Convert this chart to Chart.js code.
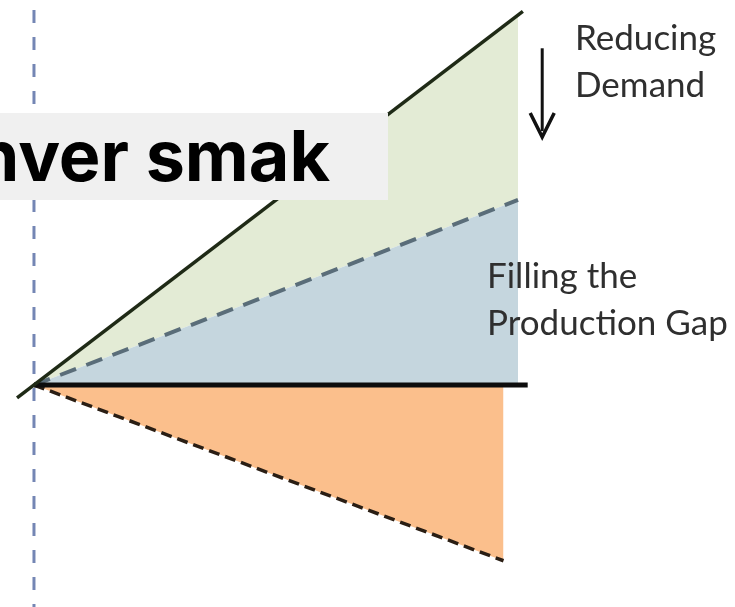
<!DOCTYPE html>
<html>
<head>
<meta charset="utf-8">
<script src="https://cdn.jsdelivr.net/npm/chart.js@4"></script>
<style>
  body { margin: 0; background: #fff; }
  #wrap { position: relative; width: 735px; height: 607px; overflow: hidden; }
  #wrap canvas { position: absolute; left: 0; top: 0; }
  .label { position: absolute; font-family: Lato, sans-serif; font-size: 35px; line-height: 47px; color: #2f2f2f; white-space: nowrap; }
  #banner {
    position: absolute; left: 0; top: 113px; width: 330px; height: 87px; padding-right: 58px;
    background: #f0f0f0; text-align: right; overflow: hidden; white-space: nowrap;
    font-family: Inter, sans-serif; font-weight: 700; font-size: 70px; line-height: 85px; color: #000;
    direction: rtl;
  }
</style>
</head>
<body>
<div id="wrap">
  <canvas id="wedge" width="735" height="607"></canvas>
  <div class="label" style="left:575px; top:13px;">Reducing<br>Demand</div>
  <div class="label" style="left:487px; top:251px;">Filling the<br>Production Gap</div>
  <div id="banner"><span dir="ltr">nver smak</span></div>
</div>
<script>
// years from the start of the wedge
const years = [0, 10];
const demandPath = [0, 10];       // upper solid line
const productionPath = [0, 5];    // dashed line
const baseline = [0, 0];
const baselineYears = [0, 10.2];
const demandLineYears = [-0.35, 10.1];
const shortfallYears = [0, 9.7];
const shortfallPath = [0, -4.75]; // lower dashed line
const markerYears = [0, 0];
const markerSpan = [-7, 11];

const pts = (xs, ys) => xs.map((x, i) => ({ x: x, y: ys[i] }));

// arrow next to "Reducing Demand"
const arrowPlugin = {
  id: 'arrow',
  afterDraw(chart) {
    const { ctx, scales } = chart;
    const x = scales.x.getPixelForValue(10.5);
    const y1 = scales.y.getPixelForValue(9.1);
    const y2 = scales.y.getPixelForValue(6.7);
    ctx.save();
    ctx.strokeStyle = '#111';
    ctx.lineWidth = 3;
    ctx.beginPath();
    ctx.moveTo(x, y1);
    ctx.lineTo(x, y2 - 6);
    ctx.stroke();
    ctx.beginPath();
    ctx.moveTo(x - 12, y2 - 24);
    ctx.lineTo(x, y2);
    ctx.lineTo(x + 12, y2 - 24);
    ctx.lineWidth = 3.5;
    ctx.stroke();
    ctx.restore();
  }
};

new Chart(document.getElementById('wedge'), {
  type: 'line',
  data: {
    datasets: [
      {
        data: pts(years, demandPath),
        backgroundColor: '#e3ebd5',
        borderWidth: 0,
        fill: '+1',
        order: 2,
      },
      {
        data: pts(years, productionPath),
        backgroundColor: '#c5d6de',
        borderColor: '#5a6d79',
        borderWidth: 4,
        borderDash: [17, 11],
        fill: { value: 0 },
        order: 1,
      },
      {
        data: pts(shortfallYears, shortfallPath),
        backgroundColor: '#fbbf8c',
        borderColor: '#2a1e14',
        borderWidth: 3.5,
        borderDash: [11, 6],
        fill: { value: 0 },
        order: 1,
      },
      {
        data: pts(markerYears, markerSpan),
        borderColor: '#7486b4',
        borderWidth: 3,
        borderDash: [13, 14],
        fill: false,
        order: 0,
      },
      {
        data: pts(demandLineYears, demandLineYears),
        borderColor: '#1f2a16',
        borderWidth: 3.5,
        fill: false,
        order: 0,
      },
      {
        data: pts(baselineYears, baseline),
        borderColor: '#0d0d0d',
        borderWidth: 5,
        fill: false,
        order: 0,
      },
    ],
  },
  options: {
    responsive: false,
    animation: false,
    layout: { padding: 0 },
    elements: { point: { radius: 0 }, line: { tension: 0 } },
    plugins: { legend: { display: false }, tooltip: { enabled: false } },
    scales: {
      x: { type: 'linear', min: -0.702, max: 14.483, display: false },
      y: { type: 'linear', min: -6.0, max: 10.405, display: false },
    },
  },
  plugins: [arrowPlugin],
});
</script>
</body>
</html>
